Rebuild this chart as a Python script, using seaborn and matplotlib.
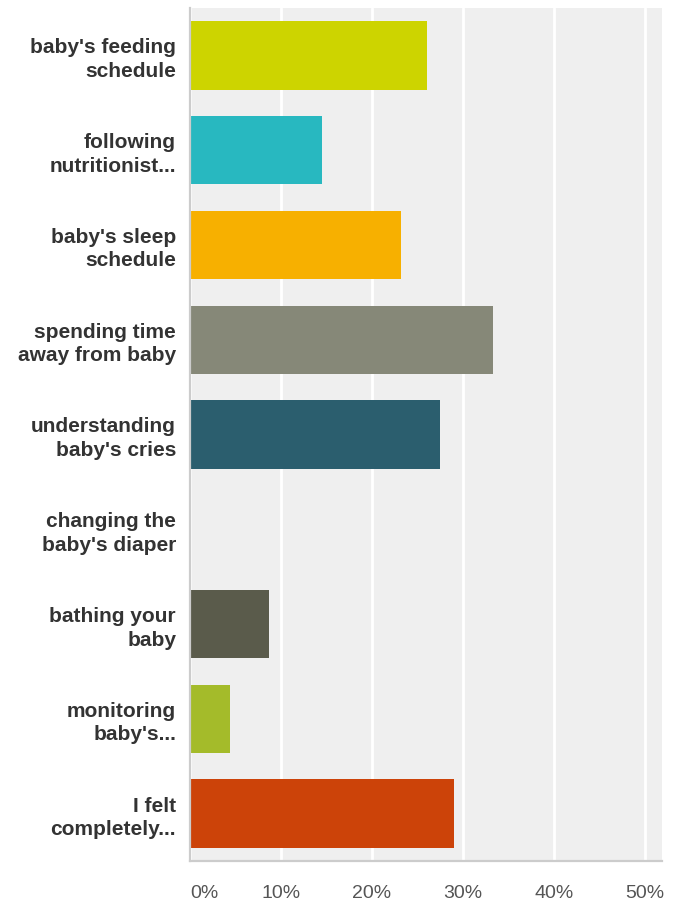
import matplotlib
matplotlib.use("Agg")
import matplotlib.pyplot as plt
import seaborn as sns
import pandas as pd
from matplotlib.ticker import FuncFormatter

categories = [
    "baby's feeding\nschedule",
    "following\nnutritionist...",
    "baby's sleep\nschedule",
    "spending time\naway from baby",
    "understanding\nbaby's cries",
    "changing the\nbaby's diaper",
    "bathing your\nbaby",
    "monitoring\nbaby's...",
    "I felt\ncompletely...",
]
values = [26.09, 14.49, 23.19, 33.33, 27.54, 0.0, 8.70, 4.35, 28.99]
colors = ["#cdd400", "#28b8c0", "#f7b000", "#868878", "#2b5e6e",
          "#8a8a8a", "#5a5b4b", "#a4bb2a", "#cc4309"]
xticks = [0, 10, 20, 30, 40, 50]

df = pd.DataFrame({"category": categories, "value": values})

sns.set_theme(style="white")
plt.rcParams["font.family"] = ["Liberation Sans", "DejaVu Sans"]

fig = plt.figure(figsize=(6.76, 9.06), dpi=100)
ax = fig.add_axes([190 / 676, 1 - 861 / 906, (662 - 190) / 676, (861 - 8) / 906])
ax.set_facecolor("#efefef")

sns.barplot(data=df, y="category", x="value", hue="category", palette=colors,
            orient="h", legend=False, width=0.72, ax=ax, zorder=3,
            saturation=1, edgecolor="none", linewidth=0)

ax.set_xlim(0, 51.9)
ax.set_ylim(8.5, -0.5)
ax.set_xticks(xticks)
ax.xaxis.set_major_formatter(FuncFormatter(lambda v, p: f"{int(v)}%"))
ax.grid(axis="x", color="white", linewidth=2, zorder=1)
ax.set_axisbelow(True)
ax.set_xlabel("")
ax.set_ylabel("")

for s in ["top", "right"]:
    ax.spines[s].set_visible(False)
for s in ["left", "bottom"]:
    ax.spines[s].set_color("#cccccc")
    ax.spines[s].set_linewidth(1.6)
    ax.spines[s].set_zorder(4)

ax.tick_params(axis="x", length=0, pad=17, labelsize=14, labelcolor="#555555")
ax.tick_params(axis="y", length=0, pad=10, labelsize=15, labelcolor="#333333")
for lab in ax.get_yticklabels():
    lab.set_fontweight("bold")
    lab.set_linespacing(1.3)
    lab.set_horizontalalignment("right")
xl = ax.get_xticklabels()
xl[0].set_horizontalalignment("left")

fig.savefig("out.png", dpi=100, facecolor="white")
